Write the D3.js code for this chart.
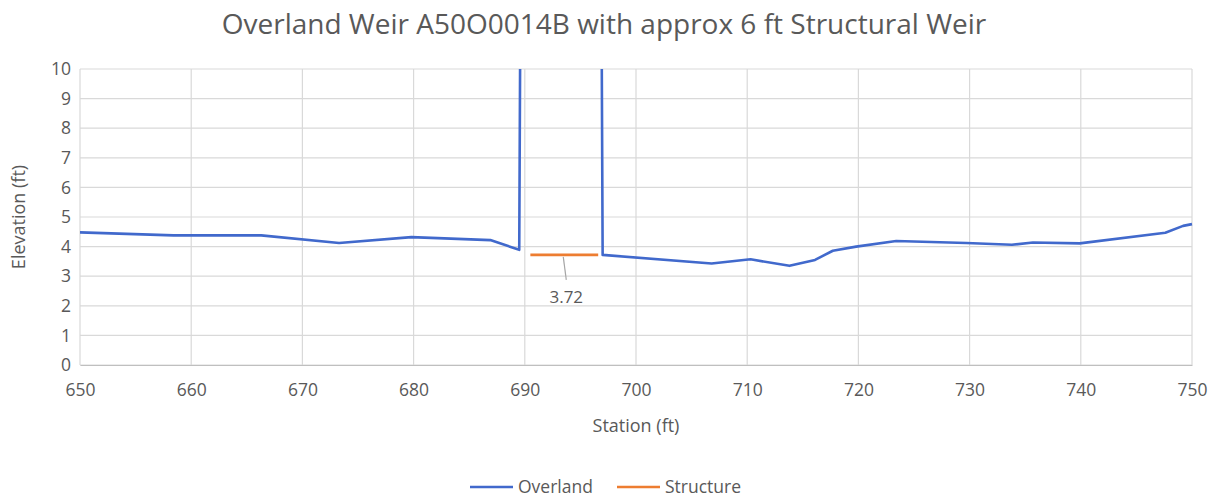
<!DOCTYPE html>
<html>
<head>
<meta charset="utf-8">
<script src="https://cdn.jsdelivr.net/npm/d3@7"></script>
<style>
  body { margin: 0; background: #fff; }
  text { font-family: "Open Sans", sans-serif; fill: #595959; }
</style>
</head>
<body>
<div id="chart"></div>
<script>
// Overland profile (station, elevation)
var overlandStation = [650, 658.4, 666.3, 673.3, 679.8, 686.9, 689.5, 689.6, 696.9, 697, 706.8, 710.3, 713.8, 716.1, 717.7, 719.8, 723.4, 729.7, 733.8, 735.7, 739.9, 747.6, 749.2, 750];
var overlandElev    = [4.48, 4.38, 4.38, 4.12, 4.32, 4.22, 3.89, 12, 12, 3.72, 3.43, 3.57, 3.35, 3.55, 3.86, 4.0, 4.19, 4.12, 4.06, 4.14, 4.11, 4.47, 4.7, 4.76];

// Structural weir crest
var structureStation = [690.5, 696.6];
var structureElev    = [3.72, 3.72];
var structureLabel = "3.72";

var xTicks = [650, 660, 670, 680, 690, 700, 710, 720, 730, 740, 750];
var yTicks = [0, 1, 2, 3, 4, 5, 6, 7, 8, 9, 10];
var seriesNames = ["Overland", "Structure"];
var colors = ["#4169cc", "#ed7d31"];

var W = 1217, H = 498;
var margin = {top: 69, right: 25, bottom: 133, left: 80};

var svg = d3.select("#chart")
  .append("svg")
  .attr("width", W)
  .attr("height", H);

var x = d3.scaleLinear()
  .domain([650, 750])
  .range([margin.left, W - margin.right]);

var y = d3.scaleLinear()
  .domain([0, 10])
  .range([H - margin.bottom, margin.top]);

// gridlines
svg.append("g")
  .selectAll("line")
  .data(yTicks)
  .join("line")
    .attr("x1", x(650)).attr("x2", x(750))
    .attr("y1", d => y(d)).attr("y2", d => y(d))
    .attr("stroke", "#d9d9d9").attr("stroke-width", 1.2);

svg.append("g")
  .selectAll("line")
  .data(xTicks)
  .join("line")
    .attr("x1", d => x(d)).attr("x2", d => x(d))
    .attr("y1", y(0)).attr("y2", y(10))
    .attr("stroke", "#d9d9d9").attr("stroke-width", 1.2);

// axes
var xAxis = g => g
  .attr("transform", `translate(0,${y(0)})`)
  .call(d3.axisBottom(x).tickValues(xTicks).tickSize(0).tickPadding(19))
  .call(g => g.select(".domain").attr("stroke", "#bfbfbf").attr("stroke-width", 1.2))
  .call(g => g.selectAll("text").attr("font-size", 17.5).style("font-family", "Open Sans").attr("fill", "#595959"));

var yAxis = g => g
  .attr("transform", `translate(${x(650)},0)`)
  .call(d3.axisLeft(y).tickValues(yTicks).tickSize(0).tickPadding(9))
  .call(g => g.select(".domain").remove())
  .call(g => g.selectAll("text").attr("font-size", 17.5).style("font-family", "Open Sans").attr("fill", "#595959"));

svg.append("g").call(xAxis);
svg.append("g").call(yAxis);

// clip to plot area
svg.append("clipPath")
  .attr("id", "plot")
  .append("rect")
    .attr("x", x(650) - 2).attr("y", y(10))
    .attr("width", x(750) - x(650) + 4).attr("height", y(0) - y(10));

var line = d3.line()
  .x(d => x(d[0]))
  .y(d => y(d[1]));

var overland = d3.zip(overlandStation, overlandElev);
var structure = d3.zip(structureStation, structureElev);

var plot = svg.append("g").attr("clip-path", "url(#plot)");

plot.append("path")
  .datum(overland)
  .attr("fill", "none")
  .attr("stroke", colors[0])
  .attr("stroke-width", 2.6)
  .attr("stroke-linejoin", "round")
  .attr("d", line);

plot.append("path")
  .datum(structure)
  .attr("fill", "none")
  .attr("stroke", colors[1])
  .attr("stroke-width", 2.6)
  .attr("d", line);

// data label with leader line
var midX = (structureStation[0] + structureStation[1]) / 2;
svg.append("line")
  .attr("x1", x(midX) - 1).attr("y1", y(structureElev[0]) + 2)
  .attr("x2", x(midX) + 2).attr("y2", y(structureElev[0]) + 25)
  .attr("stroke", "#a6a6a6").attr("stroke-width", 1.2);

svg.append("text")
  .attr("x", x(midX) + 2)
  .attr("y", y(structureElev[0]) + 48)
  .attr("text-anchor", "middle")
  .attr("font-size", 17)
  .text(structureLabel);

// titles
svg.append("text")
  .attr("x", 604)
  .attr("y", 34)
  .attr("text-anchor", "middle")
  .attr("font-size", 28)
  .text("Overland Weir A50O0014B with approx 6 ft Structural Weir");

svg.append("text")
  .attr("x", 636)
  .attr("y", 432)
  .attr("text-anchor", "middle")
  .attr("font-size", 18)
  .text("Station (ft)");

svg.append("text")
  .attr("transform", "translate(25,217) rotate(-90)")
  .attr("text-anchor", "middle")
  .attr("font-size", 18)
  .text("Elevation (ft)");

// legend
var legend = svg.append("g")
  .selectAll("g")
  .data(seriesNames)
  .join("g")
    .attr("transform", (d, i) => `translate(${470 + i * 147},487)`);

legend.append("line")
  .attr("x1", 0).attr("x2", 43)
  .attr("stroke", (d, i) => colors[i])
  .attr("stroke-width", 2.6);

legend.append("text")
  .attr("x", 48)
  .attr("dy", "0.35em")
  .attr("font-size", 17.5)
  .text(d => d);
</script>
</body>
</html>
